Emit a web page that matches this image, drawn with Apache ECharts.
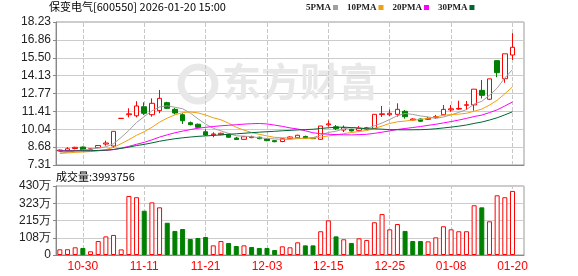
<!DOCTYPE html>
<html><head><meta charset="utf-8">
<script src="https://cdn.jsdelivr.net/npm/echarts@6/dist/echarts.min.js"></script>
<style>html,body{margin:0;padding:0;background:#fff}#c{width:578px;height:276px}</style>
</head><body><div id="c"></div>
<script>
const dates = ['10-27','10-28','10-29','10-30','10-31','11-03','11-04','11-05','11-06','11-07',
  '11-10','11-11','11-12','11-13','11-14','11-17','11-18','11-19','11-20','11-21',
  '11-24','11-25','11-26','11-27','11-28','12-01','12-02','12-03','12-04','12-05',
  '12-08','12-09','12-10','12-11','12-12','12-15','12-16','12-17','12-18','12-19',
  '12-22','12-23','12-24','12-25','12-26','12-29','12-30','12-31','01-05','01-06',
  '01-07','01-08','01-09','01-12','01-13','01-14','01-15','01-16','01-19','01-20'];
const opens  = [8.38,8.40,8.57,8.68,8.52,8.63,8.91,8.76,10.87,11.15,
  11.07,11.76,11.15,11.46,12.07,11.56,11.15,10.54,10.42,9.85,
  9.62,9.62,9.65,9.37,9.27,9.40,9.43,9.30,9.17,9.10,
  9.33,9.39,9.49,9.38,9.27,10.38,10.23,9.98,10.04,9.96,
  10.06,10.11,11.16,11.15,11.18,11.41,10.75,10.82,10.80,10.95,
  11.15,11.52,11.58,11.87,11.90,13.01,12.33,15.28,13.90,15.71];
const closes = [8.45,8.55,8.66,8.46,8.55,8.80,8.99,9.88,10.87,11.22,
  11.82,11.26,12.02,12.40,11.64,11.28,10.69,10.39,10.19,9.60,
  9.68,9.73,9.43,9.26,9.47,9.46,9.32,9.17,9.09,9.32,
  9.45,9.58,9.33,9.32,10.29,10.45,10.08,10.16,9.91,10.11,
  10.16,11.18,11.22,11.26,11.56,11.00,10.82,10.65,10.87,11.00,
  11.56,11.60,11.63,11.91,13.10,12.63,13.89,14.36,15.80,16.30];
const highs  = [8.50,8.68,8.70,8.72,8.60,8.83,9.17,9.88,10.87,11.64,
  12.18,12.10,12.40,13.04,12.14,11.66,11.26,10.63,10.48,10.04,
  9.81,9.78,9.70,9.45,9.50,9.55,9.47,9.33,9.20,9.35,
  9.50,9.62,9.55,9.42,10.29,10.71,10.36,10.33,10.08,10.28,
  10.22,11.18,11.82,11.56,12.02,11.51,10.88,10.86,10.99,11.13,
  11.89,11.89,12.22,12.20,13.10,13.80,13.89,15.28,15.80,17.38];
const lows   = [8.33,8.36,8.50,8.43,8.47,8.60,8.78,8.62,10.87,10.95,
  10.95,11.13,11.00,11.26,11.59,11.17,10.44,10.33,10.14,9.52,
  9.43,9.58,9.40,9.22,9.24,9.36,9.28,9.13,9.05,9.06,
  9.30,9.36,9.30,9.29,9.25,10.24,9.98,9.83,9.87,9.93,
  10.02,10.08,10.98,11.05,11.00,10.85,10.70,10.62,10.74,10.82,
  11.13,11.38,11.52,11.51,11.46,12.39,12.27,14.01,13.59,15.33];
// 成交量 (万股)
const volumes = [35.5,36,48,44,23,87,116,125,35,368,
  360,276,328,297,201,150,162,100,106,112,
  60,87,75,56,60,50,44,44,31,54,
  48,79,60,60,148,216,116,98,75,104,
  93,204,255,160,193,150,87,87,85,110,
  179,160,148,148,310,297,210,372,360,399.3756];
// closes before the first visible day (needed for the moving averages)
const priorCloses = [8.32,8.28,8.35,8.30,8.26,8.33,8.38,8.30,8.27,8.31,
  8.52,8.60,8.66,8.58,8.62,8.55,8.64,8.57,8.60,8.63,
  8.30,8.22,8.18,8.20,8.12,8.16,8.14,8.10,8.18];
const yTicks = [7.31,8.68,10.04,11.41,12.77,14.13,15.50,16.86,18.23];
const volTicks = [0,107.5,215,322.5,430];
const labelDates = ['10-30','11-11','11-21','12-03','12-15','12-25','01-08','01-20'];
const maPeriods = [5,10,20,30];
const maNames = ['5PMA','10PMA','20PMA','30PMA'];
const maColors = ['#a0a0a0','#f0a010','#ff00ff','#006633'];

const cats = dates.concat(['']);
const allCloses = priorCloses.concat(closes);
function ma(n){
  return closes.map((c,i)=>{
    const j = i + priorCloses.length; let s = 0;
    for (let k = j-n+1; k <= j; k++) s += allCloses[k];
    return +(s/n).toFixed(3);
  });
}
const kData = dates.map((d,i)=>[opens[i],closes[i],lows[i],highs[i]]);
const volData = volumes.map((v,i)=>{
  const prev = i>0 ? closes[i-1] : opens[i];
  const up = closes[i] >= prev;
  return {value: v, itemStyle: up ? {color:'#ffffff',borderColor:'#ff0000',borderWidth:1}
                                  : {color:'#008000',borderColor:'#008000',borderWidth:1}};
});
const vLines = {
  silent:true, symbol:['none','none'], z:1, animation:false,
  label:{show:false},
  lineStyle:{color:'#c8c8c8',type:'dashed',width:1},
  data: labelDates.map(d=>({xAxis:d}))
};
const axisFont = 'Liberation Sans';
const chart = echarts.init(document.getElementById('c'), null, {renderer:'canvas'});
chart.setOption({
  animation:false,
  backgroundColor:'#ffffff',
  title:[
    {text:'保变电气[600550] 2026-01-20 15:00', left:49, top:1, padding:0,
     textStyle:{fontSize:11, fontWeight:'normal', color:'#000', fontFamily:'"Noto Sans CJK SC"'}},
    {text:'成交量:' + Math.round(volumes[volumes.length-1]*10000), left:56, top:171, padding:0,
     textStyle:{fontSize:11, fontWeight:'normal', color:'#000', fontFamily:'"Noto Sans CJK SC"'}}
  ],
  legend:{
    left:306, top:3, padding:0, itemWidth:5, itemHeight:5, itemGap:9, align:'right', icon:'rect',
    data: maNames,
    textStyle:{fontSize:9, fontWeight:'bold', color:'#222', fontFamily:'Liberation Serif', padding:[0,-3,0,0]}
  },
  graphic:[
    {type:'circle', shape:{cx:198, cy:84, r:17}, style:{fill:'none', stroke:'#e8e8e8', lineWidth:7}, z:1, silent:true},
    {type:'text', left:222, top:62, z:1, silent:true,
     style:{text:'东方财富', font:'bold 39px "Noto Sans CJK SC"', fill:'#e8e8e8'}}
  ],
  grid:[
    {left:56, top:22, width:468, height:143, show:true, borderColor:'#999', borderWidth:1, backgroundColor:'transparent'},
    {left:56, top:186, width:468, height:69, show:true, borderColor:'#999', borderWidth:1, backgroundColor:'transparent'}
  ],
  xAxis:[
    {type:'category', gridIndex:0, data:cats, boundaryGap:true,
     axisLine:{lineStyle:{color:'#888'}}, axisTick:{show:false}, axisLabel:{show:false}, splitLine:{show:false}},
    {type:'category', gridIndex:1, data:cats, boundaryGap:true,
     axisLine:{lineStyle:{color:'#888'}}, axisTick:{show:false}, splitLine:{show:false},
     axisLabel:{show:true, color:'#ff0000', fontSize:12, fontFamily:axisFont, margin:6,
       interval:(idx,val)=>labelDates.indexOf(val) >= 0}}
  ],
  yAxis:[
    {type:'value', gridIndex:0, min:7.31, max:18.23, scale:true,
     axisLine:{show:true, lineStyle:{color:'#888'}},
     axisTick:{show:true, length:3, customValues:yTicks, lineStyle:{color:'#888'}},
     axisLabel:{customValues:yTicks, formatter:v=>v.toFixed(2), color:'#222', fontSize:12, fontFamily:axisFont, margin:5},
     splitLine:{show:true, lineStyle:{color:'#cccccc', width:1}}},
    {type:'value', gridIndex:1, min:0, max:430, interval:107.5,
     axisLine:{show:true, lineStyle:{color:'#888'}},
     axisTick:{show:true, length:3, lineStyle:{color:'#888'}},
     axisLabel:{formatter:v=> v===0 ? '0' : Math.round(v)+'万', color:'#222', fontSize:12, fontFamily:axisFont, margin:5},
     splitLine:{show:true, lineStyle:{color:'#cccccc', width:1}}}
  ],
  series:[
    {type:'candlestick', name:'K', xAxisIndex:0, yAxisIndex:0, data:kData, barWidth:5,
     itemStyle:{color:'#ffffff', color0:'#008000', borderColor:'#ff0000', borderColor0:'#008000', borderWidth:1},
     markLine: vLines},
    ...maPeriods.map((p,k)=>({
      type:'line', name:maNames[k], xAxisIndex:0, yAxisIndex:0, data:ma(p),
      showSymbol:false, symbol:'none', smooth:false, color:maColors[k],
      lineStyle:{width:1, color:maColors[k]}, z:3
    })),
    {type:'bar', name:'VOL', xAxisIndex:1, yAxisIndex:1, data:volData, barWidth:5,
     markLine: vLines}
  ]
});
</script></body></html>
